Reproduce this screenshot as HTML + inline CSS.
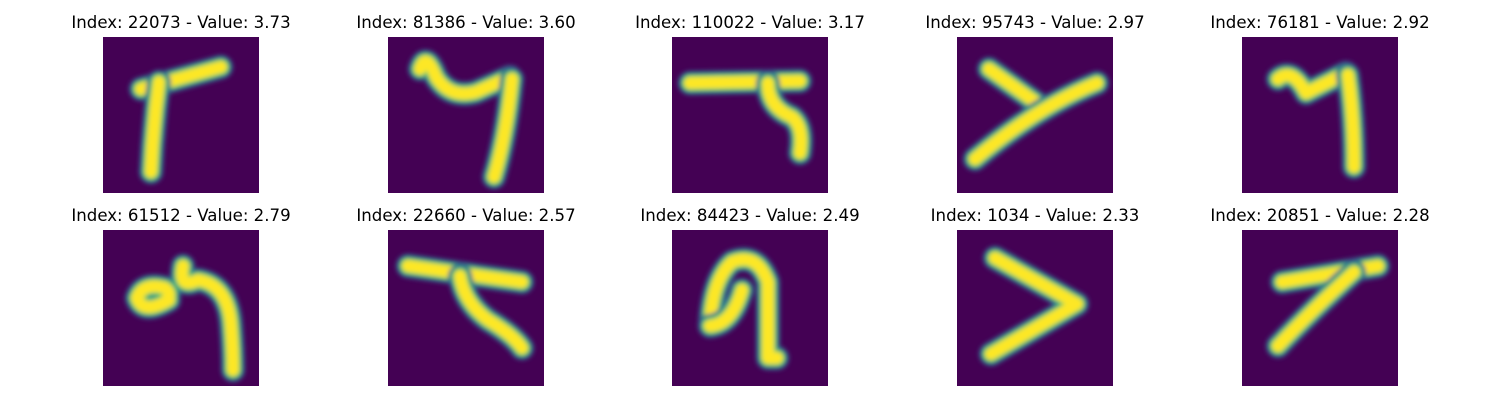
<!DOCTYPE html>
<html><head><meta charset="utf-8"><style>
body{margin:0;background:#fff;width:1500px;height:400px;overflow:hidden}
svg{display:block}
text{font-family:"DejaVu Sans","Liberation Sans",sans-serif;font-size:16.6px;fill:#000}
</style></head><body>
<svg id="fig" width="1500" height="400">
<defs>
<filter id="bl" filterUnits="userSpaceOnUse" x="-20" y="-20" width="200" height="200"><feGaussianBlur stdDeviation="2.5"/></filter>
<clipPath id="cp"><rect x="0" y="0" width="156" height="156"/></clipPath>
</defs>
</svg>
<script>
const indices=[22073,81386,110022,95743,76181,61512,22660,84423,1034,20851];
const values=[3.73,3.60,3.17,2.97,2.92,2.79,2.57,2.49,2.33,2.28];
const strokes=[
 ["M38 52 L118 30","M56 45 Q50 90 48 135"],
 ["M32 32 Q38 14 48 40 Q62 62 88 55 L122 40","M124 42 Q118 100 106 140"],
 ["M18 46 L128 44","M96 46 Q96 70 120 80 Q132 90 128 116"],
 ["M32 32 L88 72","M18 122 Q80 70 140 46"],
 ["M36 42 Q50 30 64 56 Q80 48 104 36","M106 38 Q112 80 112 130"],
 ["M66 70 Q40 85 34 68 Q40 52 62 58 Q70 64 62 72 M80 36 Q75 60 95 50 Q125 55 128 95 Q130 120 130 140"],
 ["M20 36 L134 52","M72 46 Q76 72 100 90 Q125 105 134 118"],
 ["M38 96 Q40 50 60 32 Q85 22 96 52 Q96 100 96 128 L105 128","M38 96 Q60 94 70 60"],
 ["M38 28 L120 74 L34 124"],
 ["M40 52 L136 36","M112 42 Q70 80 36 116"]
];
const xs=[103,388,672,957,1242], ys=[37,230], S=156;
const svg=document.getElementById('fig'), NS="http://www.w3.org/2000/svg";
indices.forEach((idx,i)=>{
 const x=xs[i%5], y=ys[Math.floor(i/5)];
 const g=document.createElementNS(NS,'g');
 
 
 g.setAttribute('transform',`translate(${x},${y})`);
 const r=document.createElementNS(NS,'rect');
 
 
 r.setAttribute('width',S);r.setAttribute('height',S);r.setAttribute('fill','#440154');
 g.appendChild(r);
 const gc=document.createElementNS(NS,'g');gc.setAttribute('clip-path','url(#cp)');
 const gg=document.createElementNS(NS,'g');gg.setAttribute('filter','url(#bl)');
 strokes[i].forEach(d=>{
  [['#3b528b',24],['#21918c',20],['#5ec962',16],['#fde725',12]].forEach(([c,w])=>{
   const p=document.createElementNS(NS,'path');
   
   
   p.setAttribute('d',d);p.setAttribute('fill','none');p.setAttribute('stroke',c);
   p.setAttribute('stroke-width',w);p.setAttribute('stroke-linecap','round');p.setAttribute('stroke-linejoin','round');
   gg.appendChild(p);
  });
 });
 gc.appendChild(gg);
 g.appendChild(gc);
 const t=document.createElementNS(NS,'text');
 
 
 t.setAttribute('x',S/2);t.setAttribute('y',-9);t.setAttribute('text-anchor','middle');
 t.textContent=`Index: ${idx} - Value: ${values[i].toFixed(2)}`;
 g.appendChild(t);
 svg.appendChild(g);
});
</script>
</body></html>
